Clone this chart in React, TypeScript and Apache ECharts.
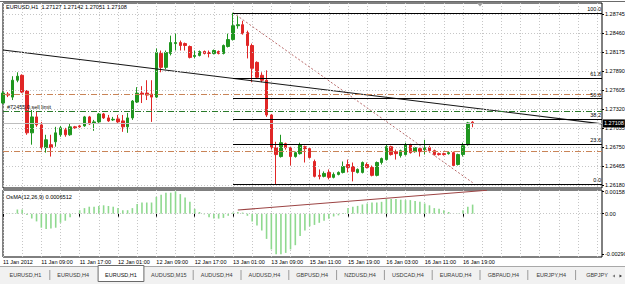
import React, { useEffect, useRef } from 'react';
import * as echarts from 'echarts';

const FONT = "'Liberation Sans', Arial, sans-serif";
const FS = 5.5;

const chartTitle = 'EURUSD,H1  1.27127 1.27142 1.27051 1.27108';
const osmaTitle = 'OsMA(12,26,9) 0.0006512';
const orderLabel = '#72455 0.sell limit';

const timeLabels = ['11 Jan 2012', '11 Jan 09:00', '11 Jan 17:00', '12 Jan 01:00', '12 Jan 09:00', '12 Jan 17:00', '13 Jan 01:00', '13 Jan 09:00', '15 Jan 11:00', '15 Jan 19:00', '16 Jan 03:00', '16 Jan 11:00', '16 Jan 19:00'];
const slotCount = 126;

const opens = [1.27414,1.27548,1.27503,1.27756,1.27830,1.27593,1.26967,1.27206,1.27086,1.26745,1.26789,1.26833,1.26938,1.27012,1.26938,1.27057,1.27071,1.27071,1.27206,1.27116,1.27131,1.27250,1.27191,1.27161,1.27176,1.27146,1.27057,1.27191,1.27429,1.27563,1.27563,1.27548,1.27503,1.28158,1.27949,1.28158,1.28306,1.28321,1.28306,1.28262,1.28113,1.28128,1.28187,1.28172,1.28158,1.28187,1.28158,1.28262,1.28366,1.28574,1.28589,1.28470,1.28277,1.28024,1.27830,1.27756,1.27235,1.26745,1.26611,1.26804,1.26745,1.26611,1.26655,1.26759,1.26730,1.26537,1.26329,1.26314,1.26373,1.26299,1.26343,1.26373,1.26492,1.26462,1.26373,1.26373,1.26492,1.26448,1.26329,1.26522,1.26566,1.26759,1.26685,1.26626,1.26641,1.26789,1.26685,1.26730,1.26715,1.26745,1.26700,1.26655,1.26655,1.26655,1.26670,1.26492,1.26641,1.26789,1.27127];
const closes = [1.27563,1.27533,1.27756,1.27816,1.27578,1.26967,1.27206,1.27086,1.26745,1.26863,1.26745,1.26967,1.27042,1.26938,1.27057,1.27042,1.27057,1.27206,1.27101,1.27131,1.27250,1.27191,1.27146,1.27170,1.27131,1.27057,1.27191,1.27444,1.27563,1.27548,1.27533,1.27503,1.28172,1.27949,1.28172,1.28321,1.28321,1.28277,1.28277,1.28098,1.28128,1.28187,1.28158,1.28158,1.28202,1.28158,1.28277,1.28366,1.28574,1.28589,1.28455,1.28277,1.27935,1.27801,1.27756,1.27235,1.26745,1.26641,1.26819,1.26745,1.26611,1.26670,1.26789,1.26730,1.26596,1.26314,1.26314,1.26358,1.26299,1.26343,1.26373,1.26462,1.26448,1.26388,1.26418,1.26522,1.26448,1.26329,1.26522,1.26581,1.26759,1.26641,1.26655,1.26700,1.26789,1.26670,1.26745,1.26685,1.26745,1.26700,1.26641,1.26641,1.26641,1.26670,1.26477,1.26641,1.26774,1.27116,1.27108];
const lows = [1.27399,1.27503,1.27459,1.27726,1.27563,1.26938,1.26789,1.27057,1.26715,1.26670,1.26611,1.26759,1.26908,1.26908,1.26923,1.27027,1.27042,1.27057,1.27086,1.26997,1.27116,1.27176,1.27131,1.27146,1.27116,1.26982,1.26967,1.27161,1.27414,1.27414,1.27459,1.27131,1.27488,1.27875,1.27920,1.28128,1.28202,1.28202,1.28202,1.28083,1.28083,1.28113,1.28143,1.28098,1.28143,1.28143,1.28143,1.28247,1.28351,1.28529,1.28440,1.28083,1.27726,1.27786,1.27726,1.27206,1.26715,1.26195,1.26596,1.26715,1.26477,1.26596,1.26641,1.26522,1.26581,1.26299,1.26269,1.26299,1.26269,1.26284,1.26329,1.26358,1.26373,1.26239,1.26358,1.26358,1.26433,1.26314,1.26314,1.26492,1.26551,1.26626,1.26566,1.26596,1.26626,1.26655,1.26670,1.26611,1.26641,1.26670,1.26626,1.26626,1.26626,1.26641,1.26462,1.26477,1.26611,1.26774,1.27051];
const highs = [1.27593,1.27578,1.27816,1.27875,1.27845,1.27608,1.27310,1.27280,1.27131,1.26938,1.26938,1.27057,1.27071,1.27042,1.27101,1.27071,1.27086,1.27221,1.27221,1.27161,1.27265,1.27265,1.27235,1.27206,1.27235,1.27235,1.27265,1.27459,1.27652,1.27667,1.27756,1.27756,1.28232,1.28202,1.28202,1.28425,1.28455,1.28351,1.28321,1.28277,1.28202,1.28202,1.28202,1.28202,1.28217,1.28202,1.28292,1.28455,1.28768,1.28723,1.28648,1.28500,1.28306,1.28039,1.27875,1.27905,1.27250,1.26833,1.26938,1.26819,1.26759,1.26685,1.26819,1.26774,1.26745,1.26566,1.26418,1.26388,1.26418,1.26373,1.26388,1.26537,1.26566,1.26522,1.26433,1.26537,1.26522,1.26477,1.26537,1.26596,1.26789,1.26774,1.26715,1.26715,1.26819,1.26804,1.26759,1.26745,1.26863,1.26774,1.26715,1.26670,1.26670,1.26685,1.26685,1.26655,1.26819,1.27131,1.27142];

const osma = [0.00000,0.00002,0.00005,0.00030,0.00030,-0.00010,-0.00035,-0.00055,-0.00100,-0.00110,-0.00105,-0.00100,-0.00065,-0.00050,-0.00025,0.00002,0.00025,0.00040,0.00050,0.00050,0.00055,0.00060,0.00055,0.00050,0.00040,0.00025,0.00025,0.00040,0.00070,0.00080,0.00080,0.00080,0.00120,0.00135,0.00150,0.00150,0.00160,0.00140,0.00115,0.00085,0.00035,0.00012,-0.00005,-0.00025,-0.00035,-0.00035,-0.00030,-0.00015,0.00008,0.00012,0.00008,-0.00015,-0.00056,-0.00085,-0.00120,-0.00180,-0.00255,-0.00290,-0.00290,-0.00280,-0.00255,-0.00225,-0.00160,-0.00120,-0.00090,-0.00080,-0.00065,-0.00050,-0.00036,-0.00020,-0.00012,0.00005,0.00040,0.00049,0.00056,0.00066,0.00073,0.00080,0.00080,0.00085,0.00105,0.00105,0.00105,0.00100,0.00097,0.00097,0.00090,0.00085,0.00073,0.00060,0.00040,0.00036,0.00024,0.00012,0.00002,-0.00002,0.00024,0.00049,0.00065];

const priceTicks = [1.26180, 1.26465, 1.26750, 1.27035, 1.27320, 1.27605, 1.27890, 1.28175, 1.28460, 1.28745];
const osmaTicks = [-0.0029, 0, 0.001583];
const osmaTickLabels = ['-0.00290', '0.00', '0.001583'];

const fibLevels = [0, 23.6, 38.2, 50, 61.8, 100];
const fibLabels = ['0.0', '23.6', '38.2', '50.0', '61.8', '100.0'];
const fibHigh = 1.28768;
const fibLow = 1.26195;
const fibStartBar = 48;
const fibDiagX = [48, 98];
const fibDiagY = [1.28768, 1.2622];

const trendX = [0, 125];
const trendY = [1.2821, 1.27101];
const osmaTrendX = [49, 101];
const osmaTrendY = [0.00026, 0.00168];

const upperOrderLine = 1.27545;
const sellLimitLine = 1.27295;
const lowerOrderLine = 1.26687;
const bidPrice = 1.27108;

const tabs = ['EURUSD,H1', 'EURUSD,H4', 'EURUSD,H1', 'AUDUSD,M15', 'AUDUSD,H4', 'AUDUSD,H4', 'GBPUSD,H4', 'NZDUSD,H4', 'USDCAD,H4', 'EURAUD,H4', 'GBPAUD,H4', 'EURJPY,H4', 'GBPJPY'];
const activeTab = 2;

function baseGraphics() {
  const tabW = 47.8;
  const tabX0 = 1.5;
  const g: any[] = [
    { type: 'line', shape: { x1: 0, y1: 1.5, x2: 625, y2: 1.5 }, style: { stroke: '#6a6a6a', lineWidth: 1 }, silent: true, z: 10 },
    { type: 'text', x: 6, y: 4, style: { text: chartTitle, fontSize: 5.6, fontFamily: FONT, fill: '#000', align: 'left', verticalAlign: 'top' }, silent: true, z: 10 },
    { type: 'text', x: 6, y: 193.5, style: { text: osmaTitle, fontSize: 5.6, fontFamily: FONT, fill: '#000', align: 'left', verticalAlign: 'top' }, silent: true, z: 10 },
    { type: 'polygon', shape: { points: [[477, 3], [483, 3], [480, 6.5]] }, style: { fill: '#a0a0a0' }, silent: true, z: 10 },
    { type: 'rect', shape: { x: 0, y: 266, width: 625, height: 18 }, style: { fill: '#f1f1f1' }, silent: true },
    { type: 'line', shape: { x1: 0, y1: 266.5, x2: 625, y2: 266.5 }, style: { stroke: '#a8a8a8', lineWidth: 1 }, silent: true },
  ];
  tabs.forEach((t, i) => {
    const x = tabX0 + tabW * i;
    if (i === activeTab) {
      g.push({ type: 'rect', shape: { x: x + 1, y: 265.5, width: tabW - 2, height: 16 }, style: { fill: '#fff', stroke: '#6a6a6a', lineWidth: 1 }, silent: true });
    } else if (i !== activeTab + 1 && i > 0) {
      g.push({ type: 'line', shape: { x1: x + 0.5, y1: 270, x2: x + 0.5, y2: 280 }, style: { stroke: '#9a9a9a', lineWidth: 1 }, silent: true });
    }
    g.push({
      type: 'text', x: Math.min(x + tabW / 2, 597), y: 274.5,
      style: { text: t, align: 'center', verticalAlign: 'middle', fontSize: FS, fontFamily: FONT, fill: i === activeTab ? '#111' : '#3a3a3a' },
      silent: true,
    });
  });
  g.push({ type: 'rect', shape: { x: 610, y: 267, width: 15, height: 17 }, style: { fill: '#f1f1f1' }, silent: true });
  g.push({ type: 'polygon', shape: { points: [[615, 274.5], [612.5, 276], [615, 277.5]] }, style: { fill: '#777' }, silent: true });
  g.push({ type: 'polygon', shape: { points: [[619.5, 274.5], [622, 276], [619.5, 277.5]] }, style: { fill: '#333' }, silent: true });
  return g;
}

function buildOption() {
  const cats = Array.from({ length: slotCount }, (_, i) => String(i));
  const candles = opens.map((o, i) => [o, closes[i], lows[i], highs[i]]);
  const dotted = { color: '#c6c6c6', type: [1, 2] as any, width: 1 };
  const dashDot = [6, 2, 1, 2];
  const fibRange = fibHigh - fibLow;

  const fibMarks = fibLevels.map((lv, k) => {
    const v = fibLow + (fibRange * lv) / 100;
    return [
      {
        coord: [fibStartBar, v],
        label: { show: true, position: 'insideEndTop', formatter: fibLabels[k], fontSize: FS, color: '#000', fontFamily: FONT, distance: 1 },
        lineStyle: { color: '#000', width: 1, type: 'solid' },
      },
      { coord: [slotCount - 1, v] },
    ];
  });

  const ml = { silent: true, symbol: ['none', 'none'], precision: 6, label: { show: false }, emphasis: { disabled: true } };

  return {
    animation: false,
    backgroundColor: '#fff',
    textStyle: { fontFamily: FONT },
    grid: [
      { left: 3, right: 23, top: 3, height: 185, show: true, borderColor: '#000', borderWidth: 1, backgroundColor: '#fff', outerBoundsMode: 'none', containLabel: false },
      { left: 3, right: 23, top: 190, height: 67, show: true, borderColor: '#000', borderWidth: 1, backgroundColor: '#fff', outerBoundsMode: 'none', containLabel: false },
    ],
    xAxis: [
      {
        type: 'category', gridIndex: 0, data: cats, boundaryGap: false,
        axisLine: { show: false }, axisTick: { show: false }, axisLabel: { show: false },
        splitLine: { show: true, interval: (i: number) => i % 4 === 0, lineStyle: dotted },
      },
      {
        type: 'category', gridIndex: 1, data: cats, boundaryGap: false,
        axisLine: { show: false },
        axisTick: { show: true, interval: (i: number) => i % 8 === 0 && i / 8 < timeLabels.length, length: 3, lineStyle: { color: '#000' } },
        axisLabel: {
          show: true, interval: (i: number) => i % 8 === 0 && i / 8 < timeLabels.length,
          formatter: (_v: string, i: number) => timeLabels[i / 8] ?? '',
          align: 'left', fontSize: FS, color: '#000', margin: 2, fontFamily: FONT,
        },
        splitLine: { show: true, interval: (i: number) => i % 4 === 0, lineStyle: dotted },
      },
    ],
    yAxis: [
      {
        type: 'value', gridIndex: 0, position: 'right', min: 1.261395, max: 1.289145,
        axisLine: { show: false }, splitLine: { show: false },
        axisTick: { show: true, customValues: priceTicks, length: 2, lineStyle: { color: '#000' } },
        axisLabel: { show: false },
      },
      {
        type: 'value', gridIndex: 1, position: 'right', min: -0.003093, max: 0.001693,
        axisLine: { show: false }, splitLine: { show: false },
        axisTick: { show: true, customValues: osmaTicks, length: 2, lineStyle: { color: '#000' } },
        axisLabel: {
          customValues: osmaTicks, showMaxLabel: true, showMinLabel: true,
          formatter: (v: number) => { const k = osmaTicks.findIndex((t) => Math.abs(t - v) < 1e-7); return k >= 0 ? osmaTickLabels[k] : ''; },
          fontSize: FS, margin: 3, color: '#000', fontFamily: FONT,
        },
      },
    ],
    graphic: baseGraphics(),
    series: [
      {
        name: 'hgrid', type: 'line', xAxisIndex: 0, yAxisIndex: 0, data: [[0, null]], z: 1, silent: true, symbol: 'none',
        markLine: { ...ml, lineStyle: dotted, data: priceTicks.map((v) => ({ yAxis: v })) },
      },
      {
        name: 'hgrid2', type: 'line', xAxisIndex: 1, yAxisIndex: 1, data: [[0, null]], z: 1, silent: true, symbol: 'none',
        markLine: { ...ml, lineStyle: dotted, data: [{ yAxis: 0 }] },
      },
      {
        name: 'orders', type: 'line', xAxisIndex: 0, yAxisIndex: 0, data: [[0, null]], z: 2, silent: true, symbol: 'none',
        markLine: {
          ...ml,
          data: [
            { yAxis: bidPrice, lineStyle: { color: '#bdbdbd', type: 'solid', width: 1 },
              label: { show: true, position: 'end', formatter: bidPrice.toFixed(5), color: '#fff', backgroundColor: '#000', padding: [1, 1, 1, 1], fontSize: FS, fontFamily: FONT, distance: 1 } },
            { yAxis: upperOrderLine, lineStyle: { color: '#c98457', type: dashDot, width: 1 } },
            { yAxis: lowerOrderLine, lineStyle: { color: '#c98457', type: dashDot, width: 1 } },
            { yAxis: sellLimitLine, lineStyle: { color: '#2a7a2a', type: dashDot, width: 1 },
              label: { show: true, position: 'insideStartTop', formatter: orderLabel, color: '#111', fontSize: FS, fontFamily: FONT, distance: [4, 1] } },
          ],
        },
      },
      {
        name: 'EURUSD', type: 'candlestick', xAxisIndex: 0, yAxisIndex: 0, data: candles, barWidth: 3, z: 3, silent: true,
        itemStyle: { color: '#1f961f', color0: '#e02626', borderColor: '#1f961f', borderColor0: '#e02626', borderWidth: 1 },
      },
      {
        name: 'fib', type: 'line', xAxisIndex: 0, yAxisIndex: 0,
        data: fibDiagX.map((x, i) => [x, fibDiagY[i]]), z: 4, silent: true, symbol: 'none',
        lineStyle: { color: '#b86a6a', width: 1, type: [2, 2] },
        markLine: { ...ml, data: fibMarks },
      },
      {
        name: 'trend', type: 'line', xAxisIndex: 0, yAxisIndex: 0,
        data: trendX.map((x, i) => [x, trendY[i]]), z: 4, silent: true, symbol: 'none',
        lineStyle: { color: '#151515', width: 1.1 },
      },
      {
        name: 'OsMA', type: 'bar', xAxisIndex: 1, yAxisIndex: 1, data: osma, barWidth: 1.6, z: 3, silent: true,
        itemStyle: { color: '#8fd98f' },
      },
      {
        name: 'osmaTrend', type: 'line', xAxisIndex: 1, yAxisIndex: 1,
        data: osmaTrendX.map((x, i) => [x, osmaTrendY[i]]), z: 4, silent: true, symbol: 'none',
        lineStyle: { color: '#9c4444', width: 1.1 },
      },
    ],
  };
}

export default function App() {
  const ref = useRef<HTMLDivElement>(null);
  useEffect(() => {
    if (!ref.current) return;
    const chart = echarts.init(ref.current, undefined, { renderer: 'svg' });
    chart.setOption(buildOption() as any);
    const priceLabels = priceTicks.map((v) => ({
      type: 'text',
      x: 605,
      y: chart.convertToPixel({ yAxisIndex: 0 } as any, v) as unknown as number,
      style: { text: v.toFixed(5), fontSize: FS, fontFamily: FONT, fill: '#000', align: 'left', verticalAlign: 'middle' },
      silent: true,
      z: Math.abs(v - bidPrice) < 0.001 ? 0 : 100,
    }));
    chart.setOption({ graphic: [...baseGraphics(), ...priceLabels] } as any, { replaceMerge: ['graphic'] } as any);
    return () => chart.dispose();
  }, []);
  return <div ref={ref} style={{ position: 'fixed', left: 0, top: 0, width: 625, height: 284, background: '#fff' }} />;
}
